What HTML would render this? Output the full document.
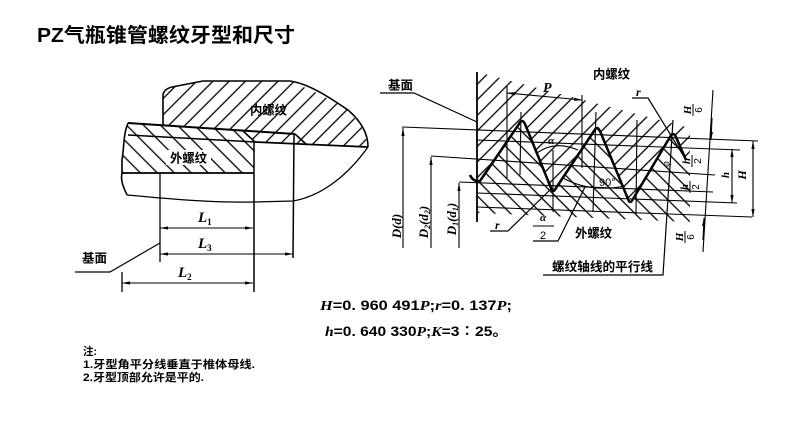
<!DOCTYPE html>
<html><head><meta charset="utf-8"><style>
html,body{margin:0;padding:0;background:#fff;}
svg{display:block;}
.cj{font-family:"Liberation Sans","Noto Sans CJK SC",sans-serif;font-weight:bold;}
.sf{font-family:"Liberation Serif","DejaVu Serif",serif;font-style:italic;font-weight:bold;}
</style></head><body>
<svg width="790" height="421" viewBox="0 0 790 421" xmlns="http://www.w3.org/2000/svg">
<defs>
<pattern id="hr" patternUnits="userSpaceOnUse" width="11" height="11" patternTransform="rotate(45)"><line x1="1" y1="0" x2="1" y2="11" stroke="#000" stroke-width="1.3"/></pattern>
<pattern id="hl" patternUnits="userSpaceOnUse" width="11" height="11" patternTransform="rotate(-45)"><line x1="1" y1="0" x2="1" y2="11" stroke="#000" stroke-width="1.3"/></pattern>
<pattern id="hr2" patternUnits="userSpaceOnUse" width="11.5" height="11.5" patternTransform="rotate(45)"><line x1="1" y1="0" x2="1" y2="11.5" stroke="#000" stroke-width="1.3"/></pattern>
<pattern id="hl2" patternUnits="userSpaceOnUse" width="12" height="12" patternTransform="rotate(-45)"><line x1="1" y1="0" x2="1" y2="12" stroke="#000" stroke-width="1.3"/></pattern>
<marker id="ar" viewBox="0 0 10 4" refX="10" refY="2" markerWidth="8" markerHeight="3.2" markerUnits="userSpaceOnUse" orient="auto-start-reverse"><path d="M0,0 L10,2 L0,4 z" fill="#000"/></marker>
</defs>

<text x="37" y="42" class="cj" font-size="20" textLength="258" lengthAdjust="spacingAndGlyphs">PZ气瓶锥管螺纹牙型和尺寸</text>

<g stroke="none">
  <polygon points="163,125 163,95 172,87 203,81 290,81 317,93 345,108 363,127 368,147 255,142 243,131" fill="url(#hr2)"/>
  <polygon points="128,123 243,131 255,142 254,173 122,173 122,160 124,140" fill="url(#hl2)"/>
</g>
<g stroke="#000" fill="none" stroke-width="1.6" stroke-linejoin="round">
  <path d="M163,125 L163,95 Q164,89 172,87 L203,81 L290,81 C310,84 330,98 348,110 C362,122 368,135 368,147"/>
  <path d="M128,123 L295,134" stroke-width="2"/>
  <path d="M128,135 L255,142"/>
  <path d="M255,142 L368,147" stroke-width="1.8"/>
  <path d="M243,131 L255,142 M295,134 L307,145"/>
  <path d="M122,173 L254,173" stroke-width="1.8"/>
  <path d="M128,123 C123,135 124,150 122,160 L122,173 C120,182 125,190 127,195"/>
  <path d="M127,195 C170,199 215,203 254,202 L293,201 C322,196 348,175 368,147" stroke-width="1.3"/>
  <path d="M254,142 L254,292" stroke-width="1.5"/>
  <path d="M294,134 L293,258" stroke-width="1.5"/>
  <path d="M160,173 L160,262" stroke-width="1.3"/>
  <path d="M122,272 L122,292" stroke-width="1.3"/>
</g>
<g stroke="#000" stroke-width="1.1" fill="none">
  <line x1="160" y1="228" x2="253" y2="228" marker-start="url(#ar)" marker-end="url(#ar)"/>
  <line x1="160" y1="254" x2="293" y2="254" marker-start="url(#ar)" marker-end="url(#ar)"/>
  <line x1="122" y1="283" x2="253" y2="283" marker-start="url(#ar)" marker-end="url(#ar)"/>
  <path d="M160,243 L110,272 L75,272" stroke-width="1.2"/>
</g>
<text x="250" y="114.5" class="cj" font-size="12.5" textLength="37" lengthAdjust="spacingAndGlyphs">内螺纹</text>
<rect x="166" y="150" width="45" height="15" fill="#fff"/>
<text x="170" y="162.5" class="cj" font-size="12.5" textLength="37" lengthAdjust="spacingAndGlyphs">外螺纹</text>
<text x="82" y="262.5" class="cj" font-size="12.5" textLength="25" lengthAdjust="spacingAndGlyphs">基面</text>
<text x="198" y="222" class="sf" font-size="15">L<tspan font-size="9" font-style="normal" dy="3">1</tspan></text>
<text x="198" y="248" class="sf" font-size="15">L<tspan font-size="9" font-style="normal" dy="3">3</tspan></text>
<text x="178" y="277" class="sf" font-size="15">L<tspan font-size="9" font-style="normal" dy="3">2</tspan></text>

<g stroke="none">
  <polygon points="477,72 690,128 690,152 685,160 673,133 630,204 597,127 553,192 522,120 480,181 477,181" fill="url(#hr)"/>
  <polygon points="477,181 480,181 522,120 553,192 597,127 630,204 673,133 685,160 690,166 690,222 477,213" fill="url(#hl)"/>
</g>
<g stroke="#000" fill="none" stroke-width="1.1">
  <line x1="402" y1="127" x2="758" y2="141"/>
  <line x1="477" y1="140" x2="740" y2="150"/>
  <line x1="431" y1="156" x2="715" y2="175"/>
  <line x1="459" y1="182" x2="713" y2="192"/>
  <line x1="477" y1="193" x2="737" y2="203"/>
  <line x1="477" y1="207" x2="752" y2="217"/>
  <line x1="403" y1="248" x2="403" y2="128" marker-end="url(#ar)"/>
  <line x1="431" y1="248" x2="431" y2="157" marker-end="url(#ar)"/>
  <line x1="459" y1="248" x2="459" y2="183" marker-end="url(#ar)"/>
  <line x1="507" y1="86" x2="507" y2="178"/>
  <line x1="582" y1="95" x2="582" y2="168"/>
  <line x1="507" y1="93" x2="582" y2="100" marker-start="url(#ar)" marker-end="url(#ar)"/>
  <line x1="521" y1="112" x2="520" y2="175"/>
  <line x1="553" y1="150" x2="553" y2="212"/>
  <line x1="596" y1="112" x2="593" y2="212"/>
  <line x1="637" y1="120" x2="636" y2="214"/>
  <line x1="713" y1="90" x2="703" y2="252"/>
  <line x1="712" y1="118" x2="711" y2="140" marker-end="url(#ar)"/>
  <line x1="703" y1="240" x2="704" y2="218" marker-end="url(#ar)"/>
  <line x1="753" y1="141" x2="753" y2="217" marker-start="url(#ar)" marker-end="url(#ar)"/>
  <line x1="732" y1="149" x2="732" y2="203" marker-start="url(#ar)" marker-end="url(#ar)"/>
  <path d="M537,153 Q555,140 578,150"/>
  <path d="M563,178 Q590,193 625,186"/>
  <path d="M380,93 L414,93 L477,122" stroke-width="1.2"/>
  <path d="M632,98 L648,98 L683,155" stroke-width="1.2"/>
  <path d="M490,231 L508,231 L552,188" stroke-width="1.2"/>
  <path d="M533,241 L558,241 L585,187" stroke-width="1.2"/>
  <line x1="533" y1="226" x2="554" y2="226"/>
  <path d="M543,275 L663,275 L673,120" stroke-width="1.2"/>
</g>
<line x1="477" y1="72" x2="477" y2="222" stroke="#000" stroke-width="1.8"/>
<path d="M470,175 Q473,182 480,181 L519,124 Q522,118 525,124 L551,188 Q553,194 556,188 L594,131 Q597,125 600,131 L628,199 Q630,205 633,199 L670,137 Q673,131 676,137 L686,160" stroke="#000" stroke-width="2.5" fill="none" stroke-linejoin="round"/>

<text x="388" y="89.5" class="cj" font-size="12.5" textLength="25" lengthAdjust="spacingAndGlyphs">基面</text>
<text x="593" y="78.5" class="cj" font-size="12.5" textLength="37" lengthAdjust="spacingAndGlyphs">内螺纹</text>
<rect x="572" y="225" width="44" height="15" fill="#fff"/>
<text x="575" y="237.5" class="cj" font-size="12.5" textLength="37" lengthAdjust="spacingAndGlyphs">外螺纹</text>
<text x="552" y="271" class="cj" font-size="12.5" textLength="101" lengthAdjust="spacingAndGlyphs">螺纹轴线的平行线</text>
<text x="543" y="92" class="sf" font-size="14">P</text>
<text x="636" y="96" class="sf" font-size="12">r</text>
<text x="495" y="229" class="sf" font-size="12">r</text>
<text x="540" y="221" class="sf" font-size="11" font-weight="normal">α</text>
<text x="540" y="239" font-family="Liberation Sans,sans-serif" font-size="11">2</text>
<text x="548" y="144" class="sf" font-size="11" font-weight="normal">α</text>
<text x="599" y="186" font-family="Liberation Sans,sans-serif" font-size="11">90°</text>
<text x="661" y="167" font-family="Liberation Serif,serif" font-size="10" transform="rotate(-90 665 163)">φ</text>

<text x="401" y="226" class="sf" font-size="13" font-weight="normal" text-anchor="middle" transform="rotate(-90 401 226)">D(d)</text>
<text x="428" y="222" class="sf" font-size="13" font-weight="normal" text-anchor="middle" transform="rotate(-90 428 222)">D<tspan font-size="8" dy="2">2</tspan><tspan dy="-2">(d</tspan><tspan font-size="8" dy="2">2</tspan><tspan dy="-2">)</tspan></text>
<text x="456" y="219" class="sf" font-size="13" font-weight="normal" text-anchor="middle" transform="rotate(-90 456 219)">D<tspan font-size="8" dy="2">1</tspan><tspan dy="-2">(d</tspan><tspan font-size="8" dy="2">1</tspan><tspan dy="-2">)</tspan></text>

<g transform="translate(693,110) rotate(-90)">
  <text x="0" y="-2" class="sf" font-size="11" text-anchor="middle">H</text>
  <line x1="-6" y1="0" x2="6" y2="0" stroke="#000" stroke-width="1"/>
  <text x="0" y="9" font-family="Liberation Sans,sans-serif" font-size="10" text-anchor="middle">6</text>
</g>
<g transform="translate(692,161) rotate(-90)">
  <text x="0" y="-2" class="sf" font-size="11" text-anchor="middle">h</text>
  <line x1="-6" y1="0" x2="6" y2="0" stroke="#000" stroke-width="1"/>
  <text x="0" y="9" font-family="Liberation Sans,sans-serif" font-size="10" text-anchor="middle">2</text>
</g>
<g transform="translate(690,187) rotate(-90)">
  <text x="0" y="-2" class="sf" font-size="11" text-anchor="middle">h</text>
  <line x1="-6" y1="0" x2="6" y2="0" stroke="#000" stroke-width="1"/>
  <text x="0" y="9" font-family="Liberation Sans,sans-serif" font-size="10" text-anchor="middle">2</text>
</g>
<g transform="translate(685,237) rotate(-90)">
  <text x="0" y="-2" class="sf" font-size="11" text-anchor="middle">H</text>
  <line x1="-6" y1="0" x2="6" y2="0" stroke="#000" stroke-width="1"/>
  <text x="0" y="9" font-family="Liberation Sans,sans-serif" font-size="10" text-anchor="middle">6</text>
</g>
<text x="729" y="175" class="sf" font-size="11" text-anchor="middle" transform="rotate(-90 729 175)">h</text>
<text x="746" y="175" class="sf" font-size="12" text-anchor="middle" transform="rotate(-90 746 175)">H</text>

<text x="320" y="310" font-family="Liberation Sans,sans-serif" font-weight="bold" font-size="14" textLength="192" lengthAdjust="spacingAndGlyphs"><tspan class="sf">H</tspan>=0. 960 491<tspan class="sf">P</tspan>;<tspan class="sf">r</tspan>=0. 137<tspan class="sf">P</tspan>;</text>
<text x="325" y="336" font-family="Liberation Sans,'Noto Sans CJK SC',sans-serif" font-weight="bold" font-size="14" textLength="183" lengthAdjust="spacingAndGlyphs"><tspan class="sf">h</tspan>=0. 640 330<tspan class="sf">P</tspan>;<tspan class="sf">K</tspan>=3∶25。</text>

<g font-family="Liberation Sans,'Noto Sans CJK SC',sans-serif" font-size="11" font-weight="bold">
<text x="83" y="355" textLength="14" lengthAdjust="spacingAndGlyphs">注:</text>
<text x="83" y="368" textLength="172" lengthAdjust="spacingAndGlyphs">1.牙型角平分线垂直于椎体母线.</text>
<text x="83" y="381" textLength="121" lengthAdjust="spacingAndGlyphs">2.牙型顶部允许是平的.</text>
</g>
</svg>
</body></html>
